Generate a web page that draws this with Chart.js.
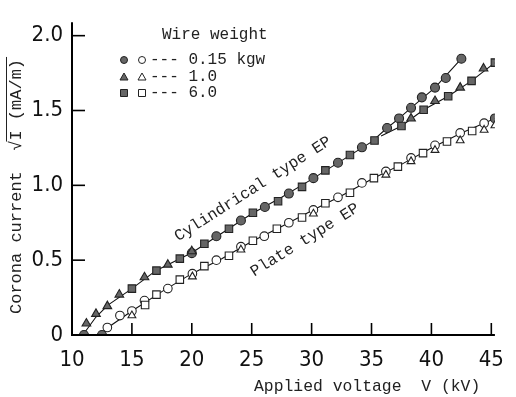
<!DOCTYPE html>
<html><head><meta charset="utf-8">
<script src="https://cdn.jsdelivr.net/npm/chart.js@4.4.1/dist/chart.umd.min.js"></script>
<style>html,body{margin:0;padding:0;background:#fff}#wrap{width:516px;height:397px;position:relative}canvas{display:block}</style>
</head><body><div id="wrap"><canvas id="c" width="516" height="397" style="width:516px;height:397px"></canvas></div>
<script>
// ---- tick labels / texts ----
const xTickValues = [10, 15, 20, 25, 30, 35, 40, 45];
const yTickValues = [0, 0.5, 1.0, 1.5, 2.0];
const xTitle = 'Applied voltage  V (kV)';
const yTitleA = 'Corona current  ';
const yTitleB = 'I (mA/m)';
const legendTitle = 'Wire weight';
const seriesNames = ['0.15 kgw', '1.0', '6.0'];
const curveNames = ['Cylindrical type EP', 'Plate type EP'];

// ---- Cylindrical type EP (filled markers) ----
const cylCircleX = [11.0, 20.0, 22.05, 24.1, 26.1, 28.1, 30.15, 32.2, 34.2, 36.3, 37.3, 38.3, 39.2, 40.3, 41.2, 42.5];
const cylCircleY = [0.0, 0.547, 0.66, 0.765, 0.855, 0.945, 1.048, 1.151, 1.254, 1.383, 1.447, 1.518, 1.588, 1.653, 1.717, 1.846];
const cylTriX = [11.2, 12.0, 12.95, 13.95, 16.05, 18.0, 20.0, 38.3, 40.3, 42.4, 44.35];
const cylTriY = [0.077, 0.141, 0.193, 0.27, 0.386, 0.47, 0.56, 1.447, 1.563, 1.653, 1.781];
const cylSqX = [15.0, 17.05, 19.0, 21.05, 23.1, 25.1, 27.2, 29.2, 31.15, 33.2, 35.25, 37.5, 39.35, 41.4, 43.35, 45.3];
const cylSqY = [0.31, 0.43, 0.51, 0.61, 0.71, 0.817, 0.894, 0.99, 1.10, 1.203, 1.30, 1.396, 1.505, 1.595, 1.698, 1.82];

// ---- Plate type EP (open markers) ----
const plCircleX = [12.95, 14.0, 15.0, 16.05, 18.0, 20.05, 22.05, 24.1, 26.05, 28.1, 30.15, 32.2, 34.2, 36.2, 38.3, 40.3, 42.4, 44.4];
const plCircleY = [0.05, 0.13, 0.16, 0.23, 0.31, 0.41, 0.50, 0.59, 0.66, 0.75, 0.836, 0.92, 1.016, 1.093, 1.183, 1.267, 1.35, 1.415];
const plTriX = [15.0, 20.05, 24.1, 30.15, 36.2, 38.3, 40.3, 42.4, 44.4, 45.3];
const plTriY = [0.13, 0.39, 0.57, 0.81, 1.07, 1.16, 1.235, 1.30, 1.37, 1.40];
const plSqX = [16.1, 17.05, 19.0, 21.05, 23.1, 25.1, 27.1, 29.2, 31.15, 33.2, 35.2, 37.2, 39.3, 41.3, 43.4];
const plSqY = [0.20, 0.27, 0.37, 0.46, 0.53, 0.63, 0.71, 0.785, 0.88, 0.95, 1.048, 1.125, 1.215, 1.293, 1.363];
const plFilledX = [12.5, 45.3];
const plFilledY = [0.0, 1.447];

// ---- fitted curves ----
const cylLineX = [10.9, 12.0, 13.0, 15.0, 17.0, 20.0, 22.5, 25.0, 27.5, 30.0, 32.5, 35.0, 36.3, 37.3, 38.3, 40.3, 42.5];
const cylLineY = [0.0, 0.12, 0.2, 0.31, 0.43, 0.55, 0.68, 0.81, 0.92, 1.04, 1.165, 1.29, 1.383, 1.447, 1.518, 1.653, 1.846];
const cylLowerX = [35.8, 37.5, 39.35, 41.4, 43.35, 45.3];
const cylLowerY = [1.33, 1.396, 1.505, 1.595, 1.698, 1.82];
const plLineX = [12.4, 13.0, 15.0, 17.5, 20.0, 22.5, 25.0, 27.5, 30.0, 32.5, 35.0, 37.5, 40.0, 42.5, 45.3];
const plLineY = [0.0, 0.05, 0.16, 0.29, 0.41, 0.51, 0.625, 0.725, 0.83, 0.93, 1.04, 1.14, 1.25, 1.35, 1.447];

const zip = (xs, ys) => xs.map((x, i) => ({x: x, y: ys[i]}));
const FILL = '#666666', EDGE = '#222222';
const MONO = "'Liberation Mono', 'DejaVu Sans Mono', monospace";
const NARROW = "'Liberation Sans Narrow', 'DejaVu Sans', sans-serif";

function markerSet(label, xs, ys, style, filled, r) {
  return {label, data: zip(xs, ys), pointStyle: style, pointRadius: r, pointHoverRadius: r,
    pointBackgroundColor: filled ? FILL : '#fff', pointBorderColor: EDGE, pointBorderWidth: 1.1,
    showLine: false, order: 1};
}
function lineSet(label, xs, ys) {
  return {label, data: zip(xs, ys), showLine: true, borderColor: '#111', borderWidth: 1.1,
    pointRadius: 0, fill: false, tension: 0, order: 10};
}

const overlay = {
  id: 'overlay',
  afterDraw(chart) {
    const ctx = chart.ctx, xs = chart.scales.x, ys = chart.scales.y, a = chart.chartArea;
    ctx.save();
    // axes
    ctx.strokeStyle = '#000'; ctx.lineWidth = 2;
    ctx.beginPath(); ctx.moveTo(a.left, a.top); ctx.lineTo(a.left, a.bottom); ctx.lineTo(a.right, a.bottom); ctx.stroke();
    // inward ticks
    ctx.lineWidth = 1.6;
    xTickValues.forEach(v => { if (v === 10) return; const px = xs.getPixelForValue(v);
      ctx.beginPath(); ctx.moveTo(px, a.bottom); ctx.lineTo(px, a.bottom - 12); ctx.stroke(); });
    yTickValues.forEach(v => { if (v === 0) return; const py = ys.getPixelForValue(v);
      ctx.beginPath(); ctx.moveTo(a.left, py); ctx.lineTo(a.left + 13, py); ctx.stroke(); });
    // x title
    ctx.fillStyle = '#222'; ctx.font = '16.4px ' + MONO; ctx.textBaseline = 'middle'; ctx.textAlign = 'left';
    ctx.fillText(xTitle, 254, 387);
    // y title
    ctx.save(); ctx.font = '17px ' + MONO; ctx.translate(16, 314); ctx.rotate(-Math.PI / 2);
    ctx.textAlign = 'left';
    ctx.fillText(yTitleA, 0, 0);
    let off = ctx.measureText(yTitleA).width;
    ctx.fillText('\u221A', off, 0);
    const rw = ctx.measureText('\u221A').width;
    ctx.fillText(yTitleB, off + rw, 0);
    const bw = ctx.measureText(yTitleB).width;
    ctx.lineWidth = 1; ctx.strokeStyle = '#222';
    ctx.beginPath(); ctx.moveTo(off + rw - 1, -9.5); ctx.lineTo(off + rw + bw + 2, -9.5); ctx.stroke();
    ctx.restore();
    // curve labels
    ctx.font = '16px ' + MONO; ctx.textAlign = 'center';
    ctx.save(); ctx.translate(253, 189); ctx.rotate(-32.5 * Math.PI / 180); ctx.fillText(curveNames[0], 0, 0); ctx.restore();
    ctx.save(); ctx.translate(305, 240); ctx.rotate(-32 * Math.PI / 180); ctx.fillText(curveNames[1], 0, 0); ctx.restore();
    // legend
    ctx.textAlign = 'left';
    ctx.fillText(legendTitle, 162, 35);
    const rows = [60, 77, 93];
    const styles = ['circle', 'triangle', 'rect'];
    rows.forEach((ry, i) => {
      drawMark(ctx, styles[i], 124, ry, true);
      drawMark(ctx, styles[i], 142, ry, false);
      ctx.fillStyle = '#222';
      ctx.fillText('--- ' + seriesNames[i], 150, ry);
    });
    ctx.restore();
  }
};
function drawMark(ctx, style, x, y, filled) {
  ctx.save();
  ctx.fillStyle = filled ? FILL : '#fff'; ctx.strokeStyle = EDGE; ctx.lineWidth = 1;
  ctx.beginPath();
  if (style === 'circle') ctx.arc(x, y, 3.5, 0, Math.PI * 2);
  else if (style === 'triangle') { ctx.moveTo(x, y - 4); ctx.lineTo(x + 4, y + 3); ctx.lineTo(x - 4, y + 3); ctx.closePath(); }
  else ctx.rect(x - 3.5, y - 3.5, 7, 7);
  ctx.fill(); ctx.stroke();
  ctx.restore();
}

new Chart(document.getElementById('c'), {
  type: 'scatter',
  data: {datasets: [
    lineSet('cyl line', cylLineX, cylLineY),
    lineSet('cyl lower line', cylLowerX, cylLowerY),
    lineSet('plate line', plLineX, plLineY),
    markerSet('Plate 1.0', plTriX, plTriY, 'triangle', false, 4.5),
    markerSet('Plate 0.15 (filled)', plFilledX, plFilledY, 'circle', true, 4.5),
    markerSet('Plate 6.0', plSqX, plSqY, 'rect', false, 5.3),
    markerSet('Plate 0.15', plCircleX, plCircleY, 'circle', false, 4.3),
    markerSet('Cyl 1.0', cylTriX, cylTriY, 'triangle', true, 5),
    markerSet('Cyl 6.0', cylSqX, cylSqY, 'rect', true, 5.3),
    markerSet('Cyl 0.15', cylCircleX, cylCircleY, 'circle', true, 4.5)
  ]},
  options: {
    responsive: false, maintainAspectRatio: false, animation: false, devicePixelRatio: 1,
    layout: {padding: {left: 0, top: 10, right: 11, bottom: 0}},
    plugins: {legend: {display: false}, tooltip: {enabled: false}},
    scales: {
      x: {type: 'linear', min: 10, max: 45.3,
        afterFit(s) { s.height = 62; },
        afterBuildTicks(s) { s.ticks = xTickValues.map(v => ({value: v})); },
        grid: {display: false, drawTicks: false, tickLength: 0}, border: {display: false},
        ticks: {padding: 12, color: '#111', maxRotation: 0, minRotation: 0, autoSkip: false,
          font: {family: NARROW, size: 22, weight: 'condensed'},
          callback: v => String(v)}},
      y: {type: 'linear', min: 0, max: 2.09,
        afterFit(s) { s.width = 72; },
        afterBuildTicks(s) { s.ticks = yTickValues.map(v => ({value: v})); },
        grid: {display: false, drawTicks: false, tickLength: 0}, border: {display: false},
        ticks: {padding: 9, color: '#111', autoSkip: false,
          font: {family: NARROW, size: 22, weight: 'condensed'},
          callback: v => (v === 0 ? '0' : v.toFixed(1))}}
    }
  },
  plugins: [overlay]
});
</script>
</body></html>
